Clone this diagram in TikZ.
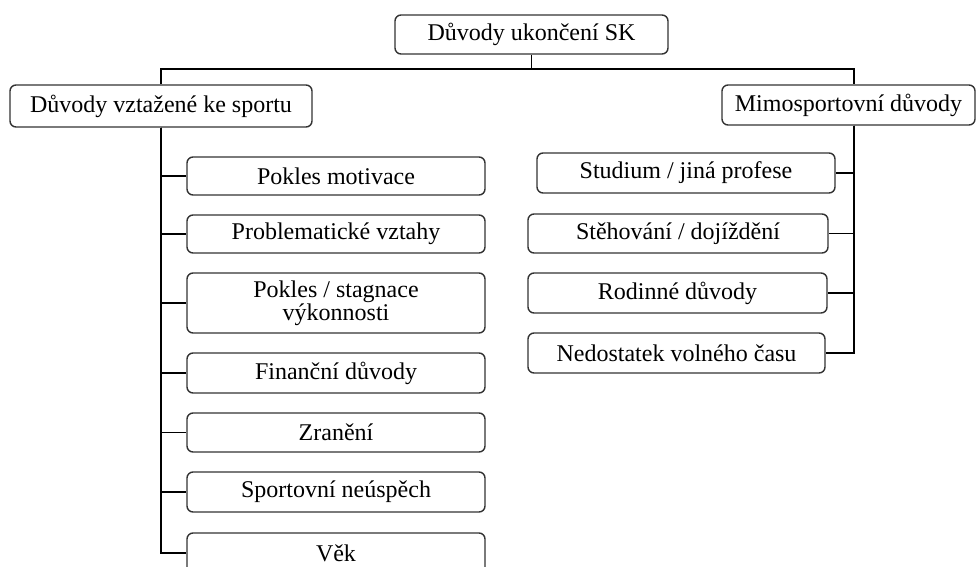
\documentclass[tikz,border=0pt]{standalone}
\usepackage{fontspec}
\setmainfont{Liberation Serif}
\usepackage{tikz}

\begin{document}
\begin{tikzpicture}[x=1pt, y=-1pt, line width=1.4pt,
    reason/.style={draw=black!80, rounded corners=6pt, fill=white,
        align=center, inner sep=2pt,
        font=\fontsize{24}{20}\selectfont},
    link/.style={draw=black, line width=1.4pt}]
    \useasboundingbox (0,0) rectangle (979,567);
    \clip (0,0) rectangle (979,567);

    % top box
    \node[reason, minimum width=273pt, minimum height=39pt] (root) at (531.5,34.5) {Důvody ukončení SK};

    % two main groups
    \node[reason, minimum width=302pt, minimum height=42pt] (sport) at (161,106) {Důvody vztažené ke sportu};
    \node[reason, minimum width=253pt, minimum height=40pt] (other) at (848.5,105) {Mimosportovní důvody};

    % reasons related to sport
    \node[reason, minimum width=298pt, minimum height=38pt] (s1) at (336,176) {Pokles motivace};
    \node[reason, minimum width=298pt, minimum height=38pt] (s2) at (336,234) {Problematické vztahy};
    \node[reason, minimum width=298pt, minimum height=60pt] (s3) at (336,303) {Pokles / stagnace\\výkonnosti};
    \node[reason, minimum width=298pt, minimum height=40pt] (s4) at (336,373) {Finanční důvody};
    \node[reason, minimum width=298pt, minimum height=39pt] (s5) at (336,432.5) {Zranění};
    \node[reason, minimum width=298pt, minimum height=40pt] (s6) at (336,492) {Sportovní neúspěch};
    \node[reason, minimum width=298pt, minimum height=40pt] (s7) at (336,553) {Věk};

    % other reasons
    \node[reason, minimum width=298pt, minimum height=40pt] (o1) at (686,173) {Studium / jiná profese};
    \node[reason, minimum width=300pt, minimum height=39pt] (o2) at (678,233.5) {Stěhování / dojíždění};
    \node[reason, minimum width=299pt, minimum height=40pt] (o3) at (677.5,293) {Rodinné důvody};
    \node[reason, minimum width=297pt, minimum height=40pt] (o4) at (676.5,353) {Nedostatek volného času};

    % connectors
    \coordinate (bus) at (531.5,69);
    \coordinate (trunk) at ([xshift=5.5pt]other.south);
    \draw[link] (root.south) -- (bus);
    \draw[link] (sport.north) |- (bus) -| ([xshift=5.5pt]other.north);
    \foreach \k in {s1,s2,s3,s4,s5,s6,s7}
        \draw[link] (sport.south) |- (\k.west);
    \foreach \k in {o1,o2,o3,o4}
        \draw[link] (trunk) |- (\k.east);
\end{tikzpicture}
\end{document}
